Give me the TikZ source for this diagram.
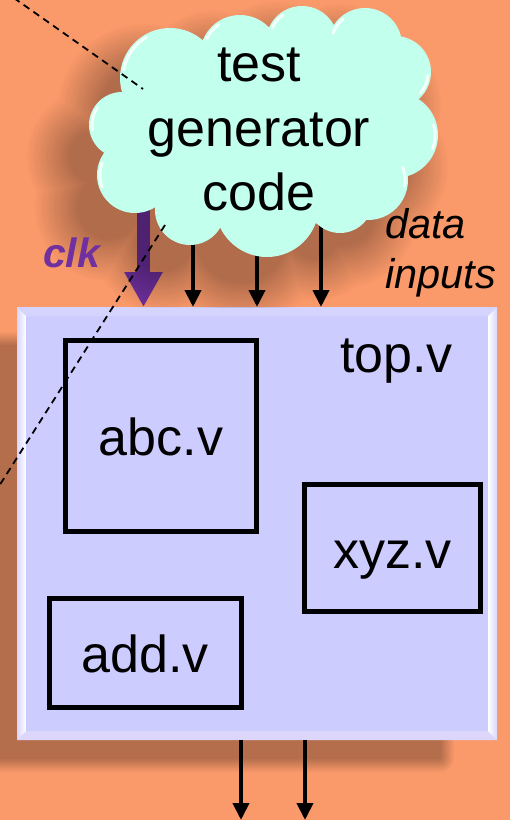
\documentclass[tikz,border=0pt]{standalone}
\usepackage{fontspec}
\setmainfont{Liberation Sans}
\usetikzlibrary{arrows.meta,calc}

\definecolor{bgorange}{RGB}{250,153,106}
\definecolor{cloudmint}{RGB}{194,255,236}
\definecolor{boxlav}{RGB}{204,204,255}
\definecolor{clkpurple}{RGB}{112,48,160}
\definecolor{bevtop}{RGB}{212,212,255}
\definecolor{bevbot}{RGB}{220,215,250}
\definecolor{bevedge}{RGB}{214,214,255}

\newcommand\modfont{\fontsize{52}{64.5}\selectfont}
\newcommand\datafont{\fontsize{41.5}{50}\selectfont\itshape}
\newcommand\clkfont{\fontsize{41}{49}\selectfont\bfseries\itshape}

% cloud as a union of bumps; #1 shrinks every bump (used for the soft shadow)
\newcommand\cloudshape[1]{%
  (265,135) ellipse [x radius={140-#1}, y radius={95-#1}]
  (170,78)  circle [radius={50-#1}]
  (240,55)  circle [radius={40-#1}]
  (302,42)  circle [radius={36-#1}]
  (365,45)  circle [radius={37-#1}]
  (395,72)  circle [radius={36-#1}]
  (395,135) circle [radius={43-#1}]
  (368,180) circle [radius={40-#1}]
  (340,200) circle [radius={33-#1}]
  (267,205) circle [radius={52-#1}]
  (190,210) circle [radius={35-#1}]
  (135,175) circle [radius={38-#1}]
  (122,125) circle [radius={33-#1}]
}

% glossy rim on one bump: centre x, centre y, radius, start and end angle
\newcommand\rimlight[5]{%
  \draw[rim] ([shift={(#4:{#3-3})}]#1,#2) arc [start angle=#4, end angle=#5, radius={#3-3}];
}

\begin{document}
\begin{tikzpicture}[x=1pt, y=-1pt,
  module/.style={draw=black, line width=5pt, inner sep=0pt,
                 text height=40pt, text depth=0pt, font=\modfont},
  dataarrow/.style={line width=4pt, -{Triangle[width=16pt,length=17pt]}},
  zoomline/.style={dash pattern=on 7pt off 5pt, line width=1.8pt},
  rim/.style={white, line width=3pt, line cap=round, opacity=0.8}]

\useasboundingbox (0,0) rectangle (510,820);
\fill[bgorange] (0,0) rectangle (510,820);

% soft shadow of the top-level box
\begin{scope}[transparency group, opacity=0.28]
  \fill[black] (-15,346) rectangle (440,758);
  \foreach \k in {1,...,14} {
    \pgfmathsetmacro\lw{2*\k}
    \pgfmathsetmacro\op{1/\k}
    \draw[black, line width=\lw pt, draw opacity=\op, line join=round]
      (-15,346) rectangle (440,758);
  }
\end{scope}

% top-level module with bevelled rim
\node[fill=boxlav, minimum width=480pt, minimum height=433pt,
      inner sep=0pt, outer sep=0pt] (top) at (257,523.5) {};
\fill[bevtop] (top.north west) -- (top.north east)
  -- ($(top.north east)+(-9,9)$) -- ($(top.north west)+(9,9)$) -- cycle;
\fill[bevbot] (top.south west) -- (top.south east)
  -- ($(top.south east)+(-9,-9)$) -- ($(top.south west)+(9,-9)$) -- cycle;
\shade[left color=bevedge, right color=white]
  (top.north west) -- ($(top.north west)+(9,9)$)
  -- ($(top.south west)+(9,-9)$) -- (top.south west) -- cycle;
\shade[left color=white, right color=bevedge]
  ($(top.north east)+(-9,9)$) -- (top.north east)
  -- (top.south east) -- ($(top.south east)+(-9,-9)$) -- cycle;

% clock input
\coordinate (clk0) at (143.5,200);
\draw[clkpurple, line width=13pt, -{Triangle[width=36pt,length=35pt]}]
  (clk0) -- (clk0 |- top.north);

% data inputs
\coordinate (d1) at (193,230);
\coordinate (d2) at (257,240);
\coordinate (d3) at (321,215);
\draw[dataarrow] (d1) -- (d1 |- top.north);
\draw[dataarrow] (d2) -- (d2 |- top.north);
\draw[dataarrow] (d3) -- (d3 |- top.north);

% outputs
\coordinate (o1) at (241,820);
\coordinate (o2) at (305,820);
\draw[dataarrow] (top.south -| o1) -- (o1);
\draw[dataarrow] (top.south -| o2) -- (o2);

% soft shadow of the cloud, kept off the top-level box
\begin{scope}
  \clip (-60,-60) rectangle ($(top.north east)+(60,0)$);
  \begin{scope}[shift={(-26,32)}, transparency group, opacity=0.29]
    \fill[black] \cloudshape{8};
    \foreach \k in {1,...,22} {
      \pgfmathsetmacro\lw{4*\k}
      \pgfmathsetmacro\op{1/\k}
      \draw[black, line width=\lw pt, draw opacity=\op] \cloudshape{8};
    }
  \end{scope}
\end{scope}

% the cloud
\fill[cloudmint] \cloudshape{0};
\rimlight{170}{78}{50}{190}{240}
\rimlight{240}{55}{40}{205}{235}
\rimlight{302}{42}{36}{205}{235}
\rimlight{365}{45}{37}{200}{230}
\rimlight{395}{72}{36}{5}{40}
\rimlight{395}{135}{43}{-15}{20}
\rimlight{368}{180}{40}{-20}{10}
\rimlight{122}{125}{33}{170}{215}
\rimlight{135}{175}{38}{160}{200}

\node[font=\modfont, align=center, inner sep=0pt] (gen) at (259,129.5)
  {test\\generator\\code};

% labels
\node[font=\datafont, align=left, inner sep=0pt, anchor=west] (din)
  at (385,252.5) {data\\inputs};
\node[font=\clkfont, text=clkpurple, inner sep=0pt, anchor=base west] (clk)
  at (43,267) {clk};
\node[font=\modfont, inner sep=0pt, anchor=base west] (topname)
  at (340,372) {top.v};

% sub-modules
\node[module, minimum width=191pt, minimum height=191pt] (abc) at (161,435.5) {abc.v};
\node[module, minimum width=176pt, minimum height=127pt] (xyz) at (392.5,548) {xyz.v};
\node[module, minimum width=192pt, minimum height=109pt] (add) at (145,652.5) {add.v};

% zoom guide lines
\coordinate (z1a) at (4,-9);
\coordinate (z1b) at (143,89);
\coordinate (z2a) at (165,225);
\coordinate (z2b) at (-6,494);
\draw[zoomline] (z1a) -- (z1b);
\draw[zoomline] (z2a) -- (z2b);
\end{tikzpicture}
\end{document}
